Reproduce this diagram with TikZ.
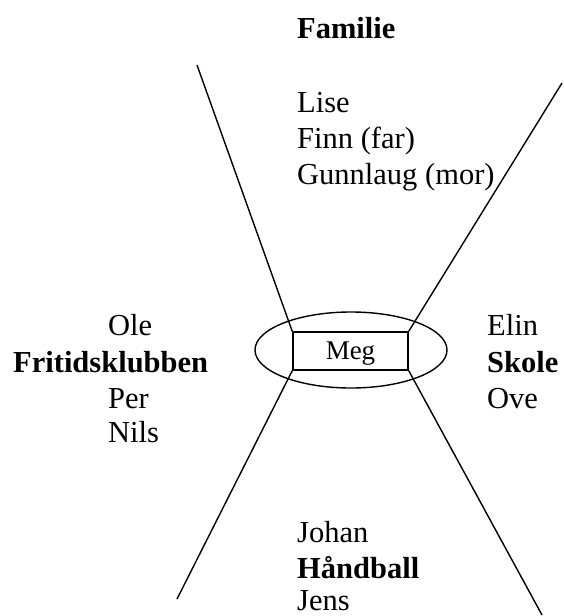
\documentclass[tikz,border=0pt]{standalone}
\usepackage{fontspec}
\setmainfont{Liberation Serif}
\usepackage{tikz}
\usetikzlibrary{positioning,shapes.geometric}

\begin{document}
\begin{tikzpicture}[x=1pt,y=-1pt,
  person/.style={anchor=base west,inner sep=0pt,font=\fontsize{30.5}{36}\selectfont},
  heading/.style={person,font=\fontsize{30.5}{36}\selectfont\bfseries},
  me/.style={rectangle,draw,line width=1.6pt,minimum width=115,minimum height=38,inner sep=0pt,text depth=0pt,font=\fontsize{27}{30}\selectfont},
  oval/.style={ellipse,draw,line width=1.4pt,minimum width=192,minimum height=76,inner sep=0pt},
  edge/.style={line width=1.4pt}]
\useasboundingbox (0,0) rectangle (563,616);

\node(ring)[oval] at (351,350) {};
\node(meg)[me] at (350.5,351) {Meg};

\node(familie)[heading] at (297,38) {Familie};
\node(lise)[person] at (297,112) {Lise};
\node(finn)[person] at (297,148) {Finn (far)};
\node(gunnlaug)[person] at (297,184) {Gunnlaug (mor)};

\node(ole)[person] at (108,335) {Ole};
\node(fritid)[heading] at (13,372) {Fritidsklubben};
\node(per)[person] at (108,408) {Per};
\node(nils)[person] at (108,442) {Nils};

\node(elin)[person] at (487,335) {Elin};
\node(skole)[heading] at (487,372) {Skole};
\node(ove)[person] at (487,408) {Ove};

\node(johan)[person] at (297,542) {Johan};
\node(handball)[heading] at (297,578) {Håndball};
\node(jens)[person] at (297,610) {Jens};

\coordinate (ul) at (197,65);
\coordinate (ur) at (562,83);
\coordinate (ll) at (177,599);
\coordinate (lr) at (542,615);

\draw [edge] (ul) -- (meg.north west);
\draw [edge] (ur) -- (meg.north east);
\draw [edge] (ll) -- (meg.south west);
\draw [edge] (lr) -- (meg.south east);
\end{tikzpicture}
\end{document}
